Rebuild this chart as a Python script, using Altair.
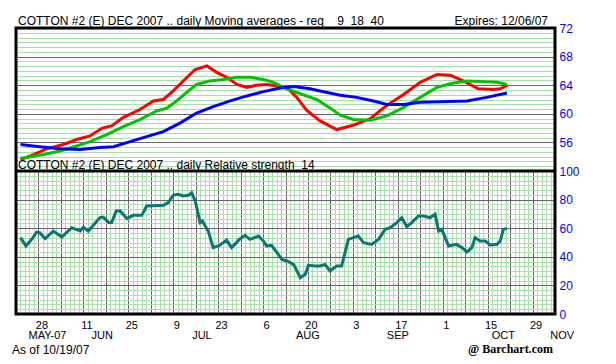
import altair as alt
import pandas as pd

# x positions are trading-day indices: 0 = Mon 21 May 2007, 5 trading days per week
tick_idx = [5, 15, 25, 35, 45, 55, 65, 75, 85, 95, 105, 115]
tick_days = ["28", "11", "25", "9", "23", "6", "20", "3", "17", "1", "15", "29"]
month_names = ["MAY-07", "JUN", "JUL", "AUG", "SEP", "OCT", "NOV"]
month_idx = [7, 19.2, 41.4, 65, 85, 108.5, 121.6]

# 9-day moving average (red)
ma9_idx = [1.0, 3.9, 6.8, 10.5, 13.5, 16.5, 19.2, 21.3, 23.9, 27.6, 30.6, 32.8, 35.0, 37.4,
           39.9, 42.5, 44.7, 46.9, 49.2, 51.4, 53.6, 55.8, 58.1, 60.3, 62.5, 64.7, 67.7, 71.4,
           75.1, 78.8, 82.6, 86.3, 90.0, 93.7, 96.7, 99.6, 102.9, 106.3, 107.8, 109.4]
ma9 = [53.6, 54.3, 55.1, 55.7, 56.4, 56.9, 58.0, 58.3, 59.5, 60.6, 61.8, 62.0, 63.2, 64.7,
       66.2, 66.7, 65.8, 65.1, 64.1, 63.7, 64.0, 64.1, 63.9, 63.7, 62.3, 60.5, 59.0, 57.8,
       58.4, 59.3, 61.2, 62.7, 64.4, 65.5, 65.4, 64.6, 63.5, 63.4, 63.5, 64.0]

# 18-day moving average (green)
ma18_idx = [1.0, 2.4, 6.1, 9.8, 13.5, 16.5, 20.2, 23.9, 27.6, 29.8, 31.3, 33.6, 35.8, 38.0,
            40.2, 43.2, 46.2, 49.2, 52.1, 55.1, 57.3, 60.3, 63.3, 67.0, 69.9, 72.2, 75.1,
            78.8, 82.6, 86.3, 90.0, 93.7, 97.4, 100.4, 104.1, 107.1, 109.3]
ma18 = [53.8, 53.9, 54.3, 54.8, 55.5, 56.1, 57.1, 58.2, 59.2, 59.9, 60.4, 60.8, 61.8, 63.0,
        64.1, 64.6, 64.8, 65.1, 65.1, 64.8, 64.4, 63.5, 62.8, 62.0, 60.8, 59.8, 59.2,
        59.1, 59.7, 60.9, 62.3, 63.7, 64.3, 64.6, 64.5, 64.4, 64.1]

# 40-day moving average (blue)
ma40_idx = [1.0, 5.3, 9.8, 14.3, 18.7, 21.7, 25.4, 29.1, 32.8, 36.5, 40.2, 43.9, 47.7, 51.4,
            55.1, 58.8, 61.8, 65.5, 67.7, 72.2, 75.9, 79.6, 82.6, 86.3, 90.0, 94.4, 100.4,
            104.8, 109.3]
ma40 = [55.7, 55.4, 55.1, 55.0, 55.3, 55.4, 56.1, 56.8, 57.5, 58.7, 60.1, 61.0, 61.8, 62.5,
        63.1, 63.6, 63.8, 63.5, 63.2, 62.6, 62.3, 61.8, 61.3, 61.3, 61.6, 61.7, 61.8,
        62.3, 62.9]

# 14-day relative strength
rsi_idx = [1.0, 2.2, 3.5, 4.6, 5.3, 6.5, 8.3, 10.2, 12.4, 14.3, 15.0, 16.1, 18.7, 19.4, 20.6,
           21.3, 22.3, 23.2, 24.7, 26.1, 28.0, 29.1, 32.8, 33.9, 35.0, 36.1, 37.3, 38.4, 39.1,
           39.9, 41.0, 41.5, 41.9, 42.8, 43.9, 45.1, 46.9, 48.0, 49.9, 51.0, 52.1, 54.0, 55.1,
           55.8, 56.9, 58.1, 59.2, 60.3, 61.8, 63.3, 64.4, 65.1, 66.6, 67.7, 68.8, 69.9, 71.4,
           72.5, 74.0, 75.1, 76.2, 77.4, 79.2, 80.7, 82.2, 83.3, 84.8, 85.9, 87.0, 88.1, 89.6,
           90.7, 92.2, 93.3, 94.1, 94.8, 96.3, 98.1, 99.3, 100.4, 101.5, 102.2, 103.3, 104.5,
           105.6, 107.1, 107.8, 108.5, 109.3]
rsi = [53.4, 47.6, 52.2, 57.3, 56.9, 52.7, 58.0, 53.8, 60.4, 58.0, 60.8, 58.0, 67.4, 67.8, 63.9,
       63.9, 72.0, 72.0, 66.7, 69.0, 69.0, 75.5, 76.0, 77.9, 83.0, 83.7, 82.5, 83.0, 84.8,
       79.0, 63.9, 65.0, 62.7, 58.0, 46.4, 47.6, 51.7, 46.4, 52.7, 55.0, 52.2, 54.5, 51.0,
       47.6, 48.0, 42.9, 38.2, 37.1, 34.7, 25.4, 27.8, 34.0, 33.6, 33.6, 34.7, 30.1, 33.6,
       33.6, 52.2, 53.4, 54.5, 49.9, 48.7, 52.2, 59.2, 60.4, 63.9, 67.4, 61.1, 63.9, 68.5,
       68.5, 67.4, 69.7, 58.0, 59.2, 47.6, 48.7, 46.4, 43.4, 46.4, 53.4, 51.0, 51.0,
       48.3, 48.7, 51.0, 59.2, 59.9]

W, H = 539, 286
HT = 143
FONT = "Liberation Sans"
MAJOR = "#6e606e"
MINOR = "#a9dfa9"

ma_df = pd.concat([
    pd.DataFrame({"idx": ma9_idx, "value": ma9, "series": "9"}),
    pd.DataFrame({"idx": ma18_idx, "value": ma18, "series": "18"}),
    pd.DataFrame({"idx": ma40_idx, "value": ma40, "series": "40"}),
])
rsi_df = pd.DataFrame({"idx": rsi_idx, "rsi": rsi})
month_df = pd.DataFrame({"idx": month_idx, "m": month_names})

xscale = alt.Scale(domain=[0, 120], nice=False, zero=False)
day_array = "[" + ",".join("'" + d + "'" for d in tick_days) + "]"
x_axis = alt.Axis(
    values=list(range(0, 121)), orient="bottom", domain=False, ticks=False, title=None,
    grid=True, gridWidth=1, gridOpacity=1,
    gridColor={"condition": {"test": "datum.value % 5 === 0", "value": MAJOR}, "value": MINOR},
    labelExpr="datum.value % 10 === 5 ? " + day_array + "[(datum.value - 5) / 10] : ''",
    labelFont=FONT, labelFontSize=11, labelColor="black", labelPadding=5, labelOffset=3,
    labelFlush=False, labelOverlap=False, labelAlign="center",
)


def xenc():
    return alt.X("idx:Q", scale=xscale, axis=x_axis)


top_vals = [52 + i * 4 / 6 for i in range(31)]
top_axis = alt.Axis(
    values=top_vals, orient="right", domain=False, ticks=False, title=None,
    grid=True, gridWidth=1, gridOpacity=1,
    gridColor={"condition": {"test": "abs(datum.value/4 - round(datum.value/4)) < 0.01", "value": MAJOR},
               "value": MINOR},
    labelExpr="abs(datum.value/4 - round(datum.value/4)) < 0.01 && datum.value > 53 ? format(datum.value, 'd') : ''",
    labelFont=FONT, labelFontSize=12, labelColor="#0000ee", labelPadding=4,
    labelAlign="left", labelBaseline="middle", labelFlush=False, labelOverlap=False,
)
bot_vals = [i * 100 / 30 for i in range(31)]
bot_axis = alt.Axis(
    values=bot_vals, orient="right", domain=False, ticks=False, title=None,
    grid=True, gridWidth=1, gridOpacity=1,
    gridColor={"condition": {"test": "abs(datum.value/20 - round(datum.value/20)) < 0.01", "value": MAJOR},
               "value": MINOR},
    labelExpr="abs(datum.value/20 - round(datum.value/20)) < 0.01 ? format(datum.value, 'd') : ''",
    labelFont=FONT, labelFontSize=12, labelColor="#0000ee", labelPadding=4,
    labelAlign="left", labelBaseline="middle", labelFlush=False, labelOverlap=False,
)

top = alt.Chart(ma_df).mark_line(strokeWidth=3).encode(
    x=xenc(),
    y=alt.Y("value:Q", scale=alt.Scale(domain=[52, 72], range=[HT, 0], nice=False, zero=False), axis=top_axis),
    color=alt.Color("series:N", scale=alt.Scale(domain=["9", "18", "40"], range=["#ff0000", "#00c400", "#0000ff"]),
                    legend=None),
)

bottom = alt.Chart(rsi_df).mark_line(strokeWidth=3, color="#08786e").encode(
    x=xenc(),
    y=alt.Y("rsi:Q", scale=alt.Scale(domain=[0, 100], range=[H, HT], nice=False, zero=False), axis=bot_axis),
)

frame = alt.Chart(pd.DataFrame({"a": [0]})).mark_rect(filled=False, stroke="black", strokeWidth=3).encode(
    x=alt.value(0), x2=alt.value(W), y=alt.value(0), y2=alt.value(H)
)
sep = alt.Chart(pd.DataFrame({"a": [0]})).mark_rule(color="black", strokeWidth=3).encode(y=alt.value(HT))


def label(text, x, y, align="left", size=12, font=FONT, weight="normal"):
    return alt.Chart(pd.DataFrame({"t": [text]})).mark_text(
        align=align, baseline="alphabetic", font=font, fontSize=size, fontWeight=weight, color="black"
    ).encode(text="t:N", x=alt.value(x), y=alt.value(y))


NB = "\u00a0"
title_top = label("COTTON #2 (E) DEC 2007 .. daily Moving averages - reg" + NB * 4 + "9" + NB * 2 + "18" + NB * 2 + "40", 2, -3)
expires = label("Expires: 12/06/07", 532, -3, align="right")
title_bot = label("COTTON #2 (E) DEC 2007 .. daily Relative strength" + NB * 2 + "14", 2, HT - 2)
asof = label("As of 10/19/07", -4, H + 40)
brand = label("@ Barchart.com", 537, H + 39, align="right", font="Liberation Serif", weight="bold")

months = alt.Chart(month_df).mark_text(
    align="center", baseline="alphabetic", font=FONT, fontSize=11, color="black"
).encode(x=xenc(), y=alt.value(H + 25), text="m:N")

chart = alt.layer(
    top, bottom, frame, sep, title_top, expires, title_bot, asof, brand, months
).resolve_scale(y="independent").properties(
    width=W, height=H,
    autosize=alt.AutoSizeParams(type="none"),
    padding={"left": 8, "top": 20, "right": 53, "bottom": 42},
    background="white",
).configure_view(stroke=None)

chart.save("out.html", embed_options={"renderer": "svg", "actions": False})
